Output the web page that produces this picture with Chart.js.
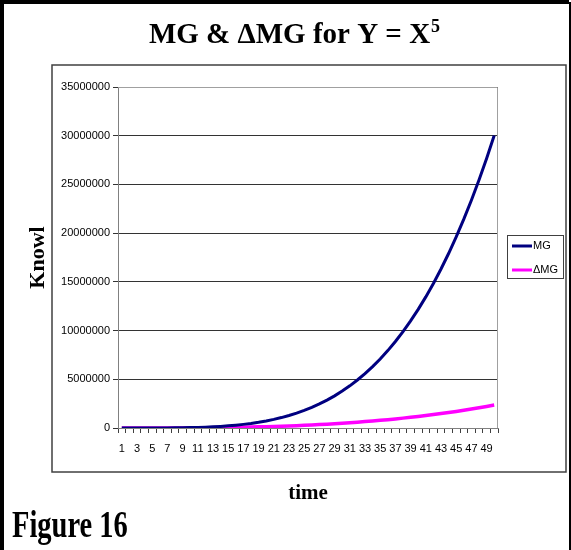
<!DOCTYPE html>
<html>
<head>
<meta charset="utf-8">
<script src="https://cdn.jsdelivr.net/npm/chart.js@4.4.1/dist/chart.umd.min.js"></script>
<style>
  body { margin: 0; background: #fff; }
  #wrap { width: 571px; height: 550px; }
</style>
</head>
<body>
<div id="wrap"><canvas id="mgChart" width="571" height="550"></canvas></div>
<script>
// time steps 1..50
var timeLabels = ['1','2','3','4','5','6','7','8','9','10','11','12','13','14','15','16','17','18','19','20',
  '21','22','23','24','25','26','27','28','29','30','31','32','33','34','35','36','37','38','39','40',
  '41','42','43','44','45','46','47','48','49','50'];

// MG series
var mgValues = [1, 31, 211, 781, 2101, 4651, 9031, 15961, 26281, 40951,
  61051, 87781, 122461, 166531, 221551, 289201, 371281, 469711, 586531, 723901,
  884101, 1069531, 1282711, 1526281, 1803001, 2115751, 2467531, 2861461, 3300781, 3788851,
  4329151, 4925281, 5580961, 6300031, 7086451, 7944301, 8877781, 9891211, 10989031, 12175801,
  13456201, 14835031, 16317211, 17907781, 19611901, 21434851, 23382031, 25458961, 27671281, 30024751];

// delta MG series
var dmgValues = [1, 30, 180, 570, 1320, 2550, 4380, 6930, 10320, 14670,
  20100, 26730, 34680, 44070, 55020, 67650, 82080, 98430, 116820, 137370,
  160200, 185430, 213180, 243570, 276720, 312750, 351780, 393930, 439320, 488070,
  540300, 596130, 655680, 719070, 786420, 857850, 933480, 1013430, 1097820, 1186770,
  1280400, 1378830, 1482180, 1590570, 1704120, 1822950, 1947180, 2076930, 2212320, 2353470];

var seriesNames = ['MG', '\u0394MG'];
var seriesColors = ['#000080', '#ff00ff'];

var serif = '"Liberation Serif", "Times New Roman", serif';
var sans = '"Liberation Sans", Arial, sans-serif';

// frames, title, legend and figure caption
var decorations = {
  id: 'decorations',
  beforeDraw: function (chart) {
    var ctx = chart.ctx;
    ctx.save();
    ctx.fillStyle = '#fff';
    ctx.fillRect(0, 0, chart.width, chart.height);
    // outer black frame
    ctx.strokeStyle = '#000';
    ctx.lineWidth = 4;
    ctx.beginPath();
    ctx.moveTo(2, 550);
    ctx.lineTo(2, 2);
    ctx.lineTo(569, 2);
    ctx.stroke();
    ctx.lineWidth = 2;
    ctx.beginPath();
    ctx.moveTo(570, 2);
    ctx.lineTo(570, 550);
    ctx.stroke();
    // chart frame
    ctx.strokeStyle = '#404040';
    ctx.lineWidth = 1.5;
    ctx.strokeRect(52, 65, 514, 407);
    ctx.restore();
  },
  afterDraw: function (chart) {
    var ctx = chart.ctx;
    var a = chart.chartArea;
    ctx.save();
    // plot border
    ctx.strokeStyle = '#a0a0a0';
    ctx.lineWidth = 1;
    ctx.beginPath();
    ctx.moveTo(a.left, a.top + 0.5);
    ctx.lineTo(a.right - 0.5, a.top + 0.5);
    ctx.lineTo(a.right - 0.5, a.bottom);
    ctx.stroke();

    // title
    ctx.fillStyle = '#000';
    ctx.textBaseline = 'alphabetic';
    ctx.font = 'bold 29px ' + serif;
    var main = 'MG & \u0394MG for Y = X';
    var w1 = ctx.measureText(main).width;
    ctx.font = 'bold 18px ' + serif;
    var w2 = ctx.measureText('5').width;
    var x0 = 294 - (w1 + w2) / 2;
    ctx.font = 'bold 29px ' + serif;
    ctx.textAlign = 'left';
    ctx.fillText(main, x0, 43);
    ctx.font = 'bold 18px ' + serif;
    ctx.fillText('5', x0 + w1 + 1, 32);

    // legend
    ctx.strokeStyle = '#404040';
    ctx.lineWidth = 1;
    ctx.strokeRect(507.5, 235.5, 56, 43);
    ctx.font = '11px ' + sans;
    ctx.textBaseline = 'middle';
    for (var i = 0; i < seriesNames.length; i++) {
      var y = 246 + i * 24;
      ctx.strokeStyle = seriesColors[i];
      ctx.lineWidth = 3;
      ctx.beginPath();
      ctx.moveTo(512, y);
      ctx.lineTo(532, y);
      ctx.stroke();
      ctx.fillStyle = '#000';
      ctx.fillText(seriesNames[i], 533, y);
    }

    // caption
    ctx.translate(12, 537);
    ctx.scale(0.75, 1);
    ctx.font = 'bold 38px ' + serif;
    ctx.textBaseline = 'alphabetic';
    ctx.fillStyle = '#000';
    ctx.fillText('Figure 16', 0, 0);
    ctx.restore();
  }
};

var ctx = document.getElementById('mgChart').getContext('2d');
new Chart(ctx, {
  type: 'line',
  data: {
    labels: timeLabels,
    datasets: [
      { label: seriesNames[0], data: mgValues, borderColor: seriesColors[0], backgroundColor: seriesColors[0],
        borderWidth: 3, pointRadius: 0, fill: false, tension: 0 },
      { label: seriesNames[1], data: dmgValues, borderColor: seriesColors[1], backgroundColor: seriesColors[1],
        borderWidth: 3.5, pointRadius: 0, fill: false, tension: 0 }
    ]
  },
  options: {
    responsive: false,
    animation: false,
    layout: { padding: { left: 0, right: 73, top: 87, bottom: 0 } },
    plugins: {
      legend: { display: false },
      title: { display: false },
      tooltip: { enabled: false }
    },
    scales: {
      x: {
        offset: true,
        grid: { display: true, drawOnChartArea: false, drawTicks: true, tickLength: 5, tickColor: '#404040', offset: true },
        border: { display: true, color: '#808080', width: 1 },
        ticks: {
          autoSkip: false, maxRotation: 0, minRotation: 0, padding: 9,
          color: '#000', font: { family: sans, size: 11 },
          callback: function (v, i) { return i % 2 === 0 ? this.getLabelForValue(v) : ''; }
        },
        title: { display: true, text: 'time', color: '#000',
          font: { family: serif, size: 21, weight: 'bold' }, padding: { top: 0, bottom: 44 } },
        afterFit: function (scale) { scale.height = 122; }
      },
      y: {
        min: 0, max: 35000000,
        grid: { color: '#333', lineWidth: 1, tickLength: 5, tickColor: '#333' },
        border: { display: true, color: '#808080', width: 1 },
        ticks: { stepSize: 5000000, padding: 3, color: '#000', font: { family: sans, size: 11 },
          callback: function (v) { return String(v); } },
        title: { display: true, text: 'Knowl', color: '#000',
          font: { family: serif, size: 22, weight: 'bold' }, padding: { top: 25, bottom: 0 } },
        afterFit: function (scale) { scale.width = 118; }
      }
    }
  },
  plugins: [decorations]
});
</script>
</body>
</html>
